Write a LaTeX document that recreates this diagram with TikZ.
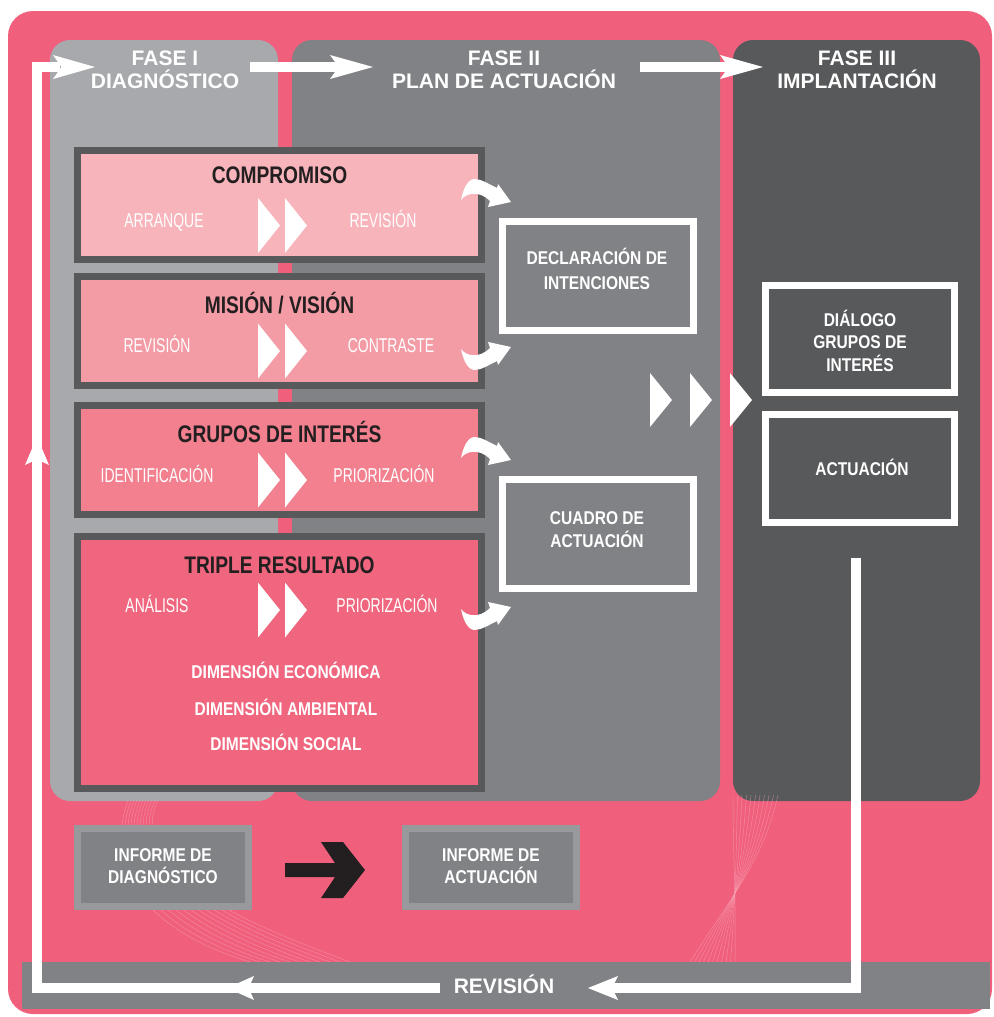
\documentclass[tikz,border=0pt]{standalone}
\usepackage{fontspec}
\setmainfont{Liberation Sans}
\newfontfamily\hdfont{Liberation Sans}
\newfontfamily\cbfont[FakeStretch=0.8]{Liberation Sans}
\newfontfamily\cwfont[FakeStretch=0.84]{Liberation Sans}
\newfontfamily\clfont[FakeStretch=0.7]{Liberation Sans}
\definecolor{pinkbg}{HTML}{F0607D}
\definecolor{faseA}{HTML}{A7A9AC}
\definecolor{faseB}{HTML}{808285}
\definecolor{faseC}{HTML}{58595B}
\definecolor{boxdark}{HTML}{58595B}
\definecolor{pa}{HTML}{F7B4BA}
\definecolor{pb}{HTML}{F49CA6}
\definecolor{pc}{HTML}{F2808F}
\definecolor{pd}{HTML}{F0667E}
\definecolor{ttlcol}{HTML}{231F20}
\definecolor{infoborder}{HTML}{98999C}
\definecolor{wirecol}{HTML}{F8A9B9}
\newcommand\mychev[3]{\fill[white] (#1,#2-#3) -- (#1+22,#2) -- (#1,#2+#3) -- cycle;}
\begin{document}
\begin{tikzpicture}[x=1pt,y=-1pt,
  hd/.style={text=white, font=\hdfont\bfseries\fontsize{21}{23}\selectfont, anchor=base, inner sep=0pt},
  ttl/.style={text=ttlcol, font=\cbfont\bfseries\fontsize{24}{26}\selectfont, anchor=base, inner sep=0pt},
  sublbl/.style={text=white, font=\clfont\fontsize{20}{22}\selectfont, anchor=base, inner sep=0pt},
  wtxt/.style={text=white, font=\cwfont\bfseries\fontsize{18.5}{20}\selectfont, anchor=base, inner sep=0pt},
  lbox/.style={draw=boxdark, line width=7pt, inner sep=0pt, outer sep=0pt},
  rbox/.style={draw=white, line width=7pt, inner sep=0pt, outer sep=0pt},
  ibox/.style={draw=infoborder, line width=7pt, fill=faseB, inner sep=0pt, outer sep=0pt, minimum width=171pt, minimum height=78pt},
  wire/.style={draw=wirecol, line width=0.45pt, opacity=0.55},
  loopline/.style={draw=white, line width=10pt, line join=miter},
  pics/ahead/.style 2 args={code={\fill[white] (0,0) -- (-#1,-#2) -- (-0.8*#1,0) -- (-#1,#2) -- cycle;}},
  pics/curvy/.style={code={\fill[white] (0,0) -- (-13,-18) -- (-14,-14) .. controls (-24,-19) and (-30,-23) .. (-37,-23) .. controls (-44,-22) and (-48,-12) .. (-50,-2) .. controls (-45,-9) and (-32,-12) .. (-21,-1) -- (-23,5) -- cycle;}}
]
\useasboundingbox (0,0) rectangle (993,1017);
\fill[white] (0,0) rectangle (993,1017);
\fill[pinkbg, rounded corners=25pt] (8,11) rectangle (992,1014);
% phase panels
\fill[faseA, rounded corners=20pt] (50,40) rectangle (278,801);
\fill[faseB, rounded corners=20pt] (292,40) rectangle (720,801);
\fill[faseC, rounded corners=20pt] (733,40) rectangle (980,801);
% faint wireframe
\foreach \i in {0,...,10} {
  \draw[wire] (128+3*\i,800) .. controls (100+2*\i,880) and (160+12*\i,935) .. (250+10*\i,962);
  \draw[wire] (733+4.5*\i,795) .. controls (733+3*\i,860) and (736,890) .. (735-4.5*\i,962);
}
% headings
\node[hd] (h1a) at (165,65) {FASE I};
\node[hd] (h1b) at (165,88) {DIAGNÓSTICO};
\node[hd] (h2a) at (504,65) {FASE II};
\node[hd] (h2b) at (504,88) {PLAN DE ACTUACIÓN};
\node[hd] (h3a) at (857,65) {FASE III};
\node[hd] (h3b) at (857,88) {IMPLANTACIÓN};
% left boxes
\node[lbox, fill=pa, minimum width=404pt, minimum height=109pt] (bcomp) at (279.5,205) {};
\node[lbox, fill=pb, minimum width=404pt, minimum height=109pt] (bmis) at (279.5,331) {};
\node[lbox, fill=pc, minimum width=404pt, minimum height=109pt] (bgru) at (279.5,460) {};
\node[lbox, fill=pd, minimum width=404pt, minimum height=252pt] (btri) at (279.5,662.5) {};
\node[ttl] (tcomp) at (279.5,183.5) {COMPROMISO};
\node[ttl] (tmis) at (279.5,313) {MISIÓN / VISIÓN};
\node[ttl] (tgru) at (279.5,442) {GRUPOS DE INTERÉS};
\node[ttl] (ttri) at (279.5,573) {TRIPLE RESULTADO};
\node[sublbl] (s1a) at (164,227) {ARRANQUE};
\node[sublbl] (s1b) at (383,227) {REVISIÓN};
\node[sublbl] (s2a) at (157,352) {REVISIÓN};
\node[sublbl] (s2b) at (391,352) {CONTRASTE};
\node[sublbl] (s3a) at (157,482) {IDENTIFICACIÓN};
\node[sublbl] (s3b) at (384,482) {PRIORIZACIÓN};
\node[sublbl] (s4a) at (157,612) {ANÁLISIS};
\node[sublbl] (s4b) at (387,612) {PRIORIZACIÓN};
\node[wtxt] (d1) at (286,678) {DIMENSIÓN ECONÓMICA};
\node[wtxt] (d2) at (286,715) {DIMENSIÓN AMBIENTAL};
\node[wtxt] (d3) at (286,750) {DIMENSIÓN SOCIAL};
% small chevrons
\foreach \ym in {225.5,351,480,610} {
  \mychev{258}{\ym}{27.5}
  \mychev{285}{\ym}{27.5}
}
% big chevrons
\mychev{650}{400}{27}
\mychev{690}{400}{27}
\mychev{730}{400}{27}
% right boxes
\node[rbox, fill=faseB, minimum width=191pt, minimum height=109pt] (bdecl) at (598,276) {};
\node[rbox, fill=faseB, minimum width=191pt, minimum height=109pt] (bcuad) at (598,534) {};
\node[rbox, fill=faseC, minimum width=189pt, minimum height=107pt] (bdial) at (860,339) {};
\node[rbox, fill=faseC, minimum width=189pt, minimum height=108pt] (bact) at (860,468.5) {};
\node[wtxt] (tdecl1) at (597,264) {DECLARACIÓN DE};
\node[wtxt] (tdecl2) at (597,289) {INTENCIONES};
\node[wtxt] (tcuad1) at (597,524) {CUADRO DE};
\node[wtxt] (tcuad2) at (597,547) {ACTUACIÓN};
\node[wtxt] (tdial1) at (860,326) {DIÁLOGO};
\node[wtxt] (tdial2) at (860,348) {GRUPOS DE};
\node[wtxt] (tdial3) at (860,371) {INTERÉS};
\node[wtxt] (tact) at (862,475) {ACTUACIÓN};
% curved arrows
\pic at (511,202) {curvy};
\pic[yscale=-1] at (511,347) {curvy};
\pic at (511,460) {curvy};
\pic[yscale=-1] at (511,607) {curvy};
% informe boxes
\node[ibox] (inf1) at (163,867.5) {};
\node[ibox] (inf2) at (491,867.5) {};
\node[wtxt] (tinf1a) at (163,861) {INFORME DE};
\node[wtxt] (tinf1b) at (163,883) {DIAGNÓSTICO};
\node[wtxt] (tinf2a) at (491,861) {INFORME DE};
\node[wtxt] (tinf2b) at (491,883) {ACTUACIÓN};
\fill[ttlcol] (285,863) -- (335,863) -- (321,842) -- (343,842) -- (365,870) -- (343,898) -- (321,898) -- (335,877) -- (285,877) -- cycle;
% revision bar
\node[fill=faseB, minimum width=968pt, minimum height=47pt, inner sep=0pt, outer sep=0pt] (revbar) at (506,985.5) {};
\node[hd] (trev) at (504,993) {REVISIÓN};
% top arrows
\coordinate (a1s) at (250,67);
\coordinate (a1e) at (340,67);
\coordinate (a2s) at (640,67);
\coordinate (a2e) at (730,67);
\draw[loopline] (a1s) -- (a1e);
\draw[loopline] (a2s) -- (a2e);
\pic at (373,67) {ahead={43}{12}};
\pic at (763,67) {ahead={43}{12}};
% feedback loop
\coordinate (lp1) at (856,558);
\coordinate (lp2) at (856,988);
\coordinate (lp3) at (610,988);
\coordinate (lp4) at (440,988);
\coordinate (lp5) at (37,988);
\coordinate (lp6) at (37,67);
\coordinate (lp7) at (60,67);
\draw[loopline] (lp1) -- (lp2) -- (lp3);
\draw[loopline] (lp4) -- (lp5) -- (lp6) -- (lp7);
\pic[rotate=180] at (588,988) {ahead={30}{12}};
\pic[rotate=180] at (227,988) {ahead={27}{12}};
\pic[rotate=90] at (37,437) {ahead={28}{12}};
\pic at (95,67) {ahead={42}{12}};
\end{tikzpicture}
\end{document}
